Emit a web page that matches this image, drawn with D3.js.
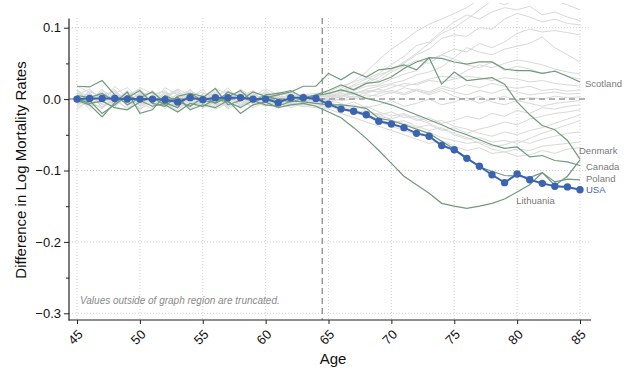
<!DOCTYPE html>
<html><head><meta charset="utf-8">
<script src="https://cdn.jsdelivr.net/npm/d3@7"></script>
<style>
body{margin:0;background:#fff;}
svg{display:block;font-family:"Liberation Sans",Arial,sans-serif;}
</style></head><body>
<svg id="chart" width="629" height="374"></svg>
<script>
// Ages on the x axis
const ages = [45,46,47,48,49,50,51,52,53,54,55,56,57,58,59,60,61,62,63,64,65,66,67,68,69,70,71,72,73,74,75,76,77,78,79,80,81,82,83,84,85];
const xTicks = [45,50,55,60,65,70,75,80,85];
const yTicks = [0.1,0,-0.1,-0.2,-0.3];
const yMinorTicks = [0.05,-0.05,-0.15,-0.25];

// Differences in log mortality rates, in thousandths, ages 45..85
const usa       = [0,1,1,1,0,0,0,-1,-4,2,-1,2,2,2,0,0,-5,2,2,1,-7,-14,-17,-22,-31,-35,-40,-48,-52,-65,-71,-83,-94,-106,-117,-105,-113,-118,-122,-123,-127];
const scotland  = [18,17,26,6,-8,2,10,-5,-12,8,4,-6,3,12,-4,2,6,10,18,18,36,27,38,31,41,43,48,41,58,57,52,49,52,52,42,40,40,36,39,32,24];
const denmark   = [-2,-8,-25,-5,10,-20,-15,5,-3,-10,2,15,-8,-2,10,4,0,-4,1,6,12,20,13,22,24,31,43,52,58,21,38,26,28,30,21,-4,-22,-37,-43,-58,-84];
const canada    = [5,2,8,-3,2,12,-6,-10,4,8,-2,-5,10,3,-3,6,8,12,2,5,8,13,8,1,-3,-8,-15,-22,-29,-36,-44,-50,-57,-64,-69,-67,-81,-79,-86,-88,-93];
const poland    = [0,-6,-3,-12,-15,-4,2,-8,-18,-6,-10,0,-4,-12,-2,-8,-10,-3,-4,-6,-8,-8,-10,-13,-27,-30,-36,-42,-48,-59,-70,-82,-95,-101,-107,-108,-110,-103,-116,-112,-113];
const lithuania = [-4,-2,-20,-8,5,-2,-10,-6,3,-15,-8,-12,-2,-20,-8,-4,-12,-8,-6,-10,-18,-26,-40,-55,-72,-90,-108,-120,-132,-146,-150,-153,-150,-146,-140,-130,-120,-103,-121,-108,-85];

// Remaining countries, in thousandths, ages 45..85
const others = [
  [5,-8,12,3,-15,6,-4,10,-2,-12,8,4,-6,14,2,-8,5,-3,6,2, 5,15,25,38,55,70,82,95,105,112,120,128,140,150,155,160,158,162,165,160,158],
  [-10,4,-6,18,2,-4,-14,6,12,-2,-8,10,-4,-12,6,0,-6,8,2,4, 8,12,20,28,36,48,60,75,80,95,108,118,112,122,128,125,130,118,122,115,110],
  [12,-4,8,-10,6,14,-2,-8,4,10,-6,2,16,-4,-10,6,2,-2,8,0, 2,10,14,22,30,42,50,62,70,85,90,88,100,98,112,120,115,108,112,106,104],
  [-6,10,-12,2,8,-4,12,-6,-16,4,10,-8,2,8,-4,10,-2,4,-4,6, 6,4,12,18,20,28,35,40,55,62,70,66,78,72,80,92,98,94,96,93,90],
  [2,-14,6,10,-8,2,-4,16,6,-10,-2,12,-6,4,10,-4,-8,2,4,-2, 0,8,6,14,18,22,26,34,38,45,58,72,66,62,70,74,78,87,72,62,52],
  [8,6,-8,-4,12,-10,4,2,-6,14,-12,-2,8,-6,4,-2,10,-6,0,-4, -2,4,10,8,15,20,18,22,28,32,30,40,48,44,50,55,52,48,42,38,35],
  [-16,2,10,-6,-2,8,-12,4,10,-4,6,-10,-2,10,-8,4,-4,6,-2,4, 4,2,8,12,10,16,22,20,26,24,28,32,30,26,30,28,24,26,22,20,18],
  [4,-6,-2,14,-10,4,8,-14,2,6,-4,8,-12,2,-6,12,-2,-4,8,-2, -4,0,4,2,8,12,8,14,10,18,14,20,16,22,18,15,18,12,14,11,13],
  [-4,12,2,-8,4,-16,6,10,-8,2,14,-6,4,-10,8,-4,6,-10,2,0, 2,-2,0,6,4,10,6,12,8,15,10,6,12,8,14,10,6,8,10,7,8],
  [10,-2,-14,4,6,10,-8,-2,14,-6,0,-12,10,4,-4,-10,4,2,-6,-4, -6,-10,-4,-12,-8,-2,-10,-6,0,-8,-4,2,-6,0,4,-2,2,0,4,2,3],
  [-2,-10,4,-2,-12,-6,2,-10,-4,-14,-2,-6,-10,0,-12,-4,-8,-6,-8,-6, -8,-14,-20,-16,-24,-28,-22,-30,-26,-34,-30,-24,-28,-20,-24,-16,-20,-12,-14,-10,-8],
  [6,2,-4,8,-6,-2,-10,0,-8,4,-12,-4,2,-8,-2,-10,-4,-12,-6,-10, -12,-8,-18,-24,-20,-30,-34,-40,-36,-44,-40,-48,-42,-38,-32,-36,-28,-24,-20,-18,-15],
  [-8,6,-2,-12,10,4,-6,8,-10,0,6,-8,-4,6,-2,2,-10,0,-4,-2, -4,-10,-8,-16,-22,-18,-26,-24,-32,-30,-38,-42,-48,-52,-46,-50,-44,-40,-34,-28,-22],
  [14,-4,6,2,-4,-12,4,-6,8,-8,-4,6,-14,-2,4,-6,-2,-8,-10,-8, -10,-16,-14,-22,-28,-34,-30,-38,-44,-40,-50,-56,-54,-60,-58,-62,-55,-48,-42,-36,-30],
  [-12,-2,-6,6,-4,8,-2,-10,-6,2,-10,-4,6,-8,-4,-2,-6,-4,-2,-4, -6,-12,-18,-24,-32,-38,-44,-50,-46,-54,-58,-62,-60,-66,-64,-58,-62,-56,-52,-48,-46],
  [2,-8,-10,-6,2,-14,-4,4,-12,-6,-2,-14,-6,-10,2,-8,-12,-6,-10,-12, -14,-20,-26,-32,-38,-44,-50,-56,-62,-58,-66,-72,-68,-76,-74,-70,-72,-66,-64,-62,-60],
  [0,8,-12,4,-2,6,10,-4,0,-10,4,2,-8,6,-6,0,2,-4,-2,0, -2,-6,-14,-10,-18,-24,-20,-28,-34,-42,-48,-54,-62,-70,-74,-80,-78,-72,-76,-70,-68],
  [-6,-4,14,-8,2,-8,6,12,-4,8,-6,4,12,-2,6,8,-4,10,4,2, 0,6,2,10,14,8,16,12,6,12,4,-2,4,-4,-8,-2,-6,-10,-6,-4,-2],
  [18,10,4,12,-2,16,8,2,14,6,-4,14,8,4,12,2,10,4,6,8, 10,18,24,30,26,38,46,54,50,62,56,48,44,52,40,46,42,36,40,32,28],
  [6,14,-2,8,16,0,12,-4,6,12,2,8,0,10,4,14,6,10,4,6, 4,10,18,24,34,40,52,64,78,92,100,112,125,138,132,140,145,140,138,132,125]
];

const highlighted = [
  {name: "Scotland",  values: scotland},
  {name: "Denmark",   values: denmark},
  {name: "Canada",    values: canada},
  {name: "Poland",    values: poland},
  {name: "Lithuania", values: lithuania}
];

const svg = d3.select("#chart");
svg.append("rect").attr("width", 629).attr("height", 374).attr("fill", "#fff");

const x = d3.scaleLinear().domain([45, 85]).range([77, 580]);
const y = d3.scaleLinear().domain([-0.3, 0.1]).range([313.3, 27.7]);
const axisX = 69, axisY = 320, axisRight = 591;
const blue = "#3b64b0", green = "#6f9a7b", labelGrey = "#7a7a7a";

svg.append("defs").append("clipPath").attr("id", "plotClip")
  .append("rect").attr("x", axisX).attr("y", 3).attr("width", axisRight - axisX).attr("height", axisY - 3);

// Dotted grid
const grid = svg.append("g");
grid.selectAll("line.gx").data(xTicks).join("line")
  .attr("x1", d => x(d)).attr("x2", d => x(d)).attr("y1", 18).attr("y2", axisY)
  .attr("stroke", "#cfcfcf").attr("stroke-width", 1).attr("stroke-dasharray", "1,2");
grid.selectAll("line.gy").data(yTicks.filter(d => d !== 0)).join("line")
  .attr("x1", axisX).attr("x2", axisRight).attr("y1", d => y(d)).attr("y2", d => y(d))
  .attr("stroke", "#cfcfcf").attr("stroke-width", 1).attr("stroke-dasharray", "1,2");

const line = d3.line().x((d, i) => x(ages[i])).y(d => y(d / 1000));
const plot = svg.append("g").attr("clip-path", "url(#plotClip)");

// Other countries in light grey
plot.selectAll("path.other").data(others).join("path")
  .attr("d", line).attr("fill", "none").attr("stroke", "#d9d9d9").attr("stroke-width", 1);

// Zero reference and age-65 marker
plot.append("line").attr("x1", axisX).attr("x2", 589).attr("y1", y(0)).attr("y2", y(0))
  .attr("stroke", "#9a9a9a").attr("stroke-width", 1.5).attr("stroke-dasharray", "6,4");
plot.append("line").attr("x1", x(64.5)).attr("x2", x(64.5)).attr("y1", 18).attr("y2", axisY)
  .attr("stroke", "#6a6a6a").attr("stroke-width", 1).attr("stroke-dasharray", "6,4");

// Highlighted countries
plot.selectAll("path.hl").data(highlighted).join("path")
  .attr("d", d => line(d.values)).attr("fill", "none").attr("stroke", green).attr("stroke-width", 1.2);

// USA
plot.append("path").attr("d", line(usa)).attr("fill", "none").attr("stroke", blue).attr("stroke-width", 2);
plot.selectAll("circle").data(usa).join("circle")
  .attr("cx", (d, i) => x(ages[i])).attr("cy", d => y(d / 1000)).attr("r", 3.7).attr("fill", blue);

// Country labels
const labelPos = {
  Scotland:  {age: 85, dx: 5,  dy: 1.5},
  Denmark:   {age: 85, dx: -1, dy: -8.5},
  Canada:    {age: 85, dx: 6,  dy: 1.5},
  Poland:    {age: 85, dx: 6,  dy: -1.5},
  Lithuania: {age: 80, dx: -1, dy: 8.5}
};
highlighted.forEach(h => {
  const p = labelPos[h.name];
  const i = ages.indexOf(p.age);
  svg.append("text").attr("x", x(p.age) + p.dx).attr("y", y(h.values[i] / 1000) + p.dy)
    .attr("dy", "0.35em").attr("font-size", 9.5).attr("fill", labelGrey).text(h.name);
});
svg.append("text").attr("x", x(85) + 6).attr("y", y(usa[usa.length - 1] / 1000))
  .attr("dy", "0.35em").attr("font-size", 9.5).attr("fill", blue).text("USA");

// Axes
svg.append("line").attr("x1", axisX).attr("x2", axisX).attr("y1", 18.5).attr("y2", axisY + 0.5)
  .attr("stroke", "#222").attr("stroke-width", 1.2);
svg.append("line").attr("x1", axisX - 0.5).attr("x2", axisRight).attr("y1", axisY).attr("y2", axisY)
  .attr("stroke", "#222").attr("stroke-width", 1.2);

const yAxis = svg.append("g").attr("transform", `translate(${axisX},0)`)
  .call(d3.axisLeft(y).tickValues(yTicks).tickSize(5).tickPadding(3).tickFormat(d3.format(".1f")));
yAxis.select(".domain").remove();
yAxis.selectAll("text").attr("font-size", 13).attr("fill", "#111").attr("font-family", "Liberation Sans, Arial, sans-serif");
yAxis.selectAll("line").attr("stroke", "#222");
svg.append("g").attr("transform", `translate(${axisX},0)`)
  .call(d3.axisLeft(y).tickValues(yMinorTicks).tickSize(3).tickFormat(""))
  .call(g => g.select(".domain").remove())
  .selectAll("line").attr("stroke", "#222");

const xAxis = svg.append("g").attr("transform", `translate(0,${axisY})`)
  .call(d3.axisBottom(x).tickValues(xTicks).tickSize(4).tickFormat(d3.format("d")));
xAxis.select(".domain").remove();
xAxis.selectAll("line").attr("stroke", "#222");
xAxis.selectAll("text")
  .attr("font-size", 13).attr("fill", "#111").attr("font-family", "Liberation Sans, Arial, sans-serif")
  .attr("y", 0).attr("dy", "0.35em")
  .attr("transform", "translate(3,12) rotate(-45)")
  .style("text-anchor", "end");

// Axis titles
svg.append("text").attr("transform", "translate(26,170) rotate(-90)")
  .attr("text-anchor", "middle").attr("font-size", 15).attr("fill", "#111")
  .text("Difference in Log Mortality Rates");
svg.append("text").attr("x", (axisX + axisRight) / 2 + 3).attr("y", 364)
  .attr("text-anchor", "middle").attr("font-size", 15).attr("fill", "#111").text("Age");

// Note
svg.append("text").attr("x", 80).attr("y", 304)
  .attr("font-size", 10).attr("font-style", "italic").attr("fill", "#8a8a8a")
  .text("Values outside of graph region are truncated.");
</script>
</body></html>
